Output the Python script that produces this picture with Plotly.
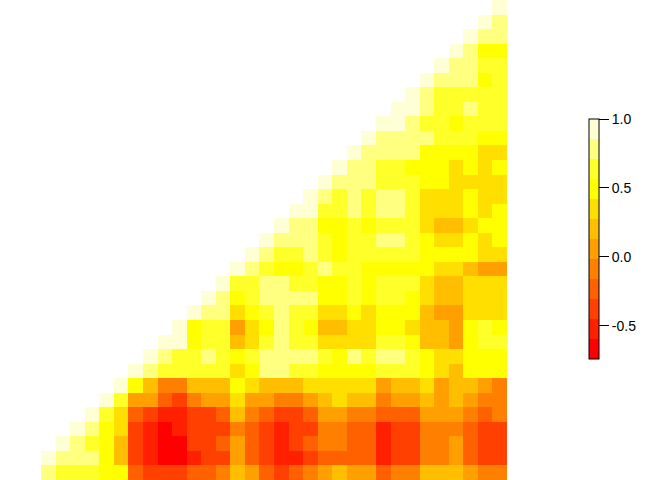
import plotly.graph_objects as go

# Lower-triangular correlation values; each row starts at its first filled column
# (row r begins at column 31 - r; the last row is complete).
row_values = [
    [1.00],
    [1.00, .78],
    [1.00, .78, .78],
    [1.00, .78, .49, .49],
    [1.00, .78, .78, .64, .64],
    [1.00, .78, .78, .78, .49, .64],
    [1.00, .78, .64, .64, .64, .64, .64],
    [1.00, .93, .78, .64, .64, .78, .64, .64],
    [1.00, .93, .78, .64, .64, .49, .64, .64, .64],
    [1.00, .78, .78, .78, .78, .64, .64, .64, .49, .49],
    [1.00, .78, .78, .78, .78, .49, .49, .49, .49, .35, .35],
    [1.00, .78, .78, .64, .64, .49, .49, .49, .35, .49, .35, .49],
    [1.00, .78, .78, .78, .64, .64, .64, .49, .49, .35, .35, .35, .35],
    [1.00, .78, .64, .78, .64, .78, .78, .64, .35, .35, .35, .49, .35, .35],
    [1.00, .93, .64, .64, .78, .64, .78, .78, .64, .35, .35, .35, .49, .35, .49],
    [1.00, .78, .78, .49, .49, .64, .49, .64, .64, .64, .35, .20, .20, .35, .49, .49],
    [1.00, .78, .78, .78, .64, .49, .64, .64, .78, .78, .64, .49, .35, .35, .49, .35, .49],
    [1.00, .78, .64, .64, .78, .64, .49, .64, .64, .64, .64, .64, .49, .49, .49, .49, .35, .35],
    [1.00, .78, .64, .49, .49, .64, .78, .64, .64, .49, .49, .49, .49, .49, .35, .35, .20, .06, .06],
    [1.00, .64, .64, .78, .78, .64, .64, .49, .49, .64, .49, .64, .64, .64, .35, .20, .20, .35, .35, .35],
    [1.00, .78, .49, .64, .78, .78, .78, .78, .49, .49, .64, .49, .64, .64, .49, .35, .20, .20, .35, .35, .35],
    [1.00, .78, .78, .35, .49, .64, .78, .64, .64, .35, .35, .49, .35, .49, .49, .49, .20, .06, .06, .35, .35, .35],
    [1.00, .49, .64, .64, .06, .35, .49, .78, .64, .49, .20, .20, .35, .35, .49, .49, .35, .20, .20, .06, .49, .64, .49],
    [1.00, .93, .49, .64, .64, .20, .35, .64, .78, .64, .64, .35, .35, .35, .35, .64, .64, .49, .20, .20, .06, .49, .64, .64],
    [1.00, .78, .64, .64, .78, .64, .49, .64, .78, .78, .78, .78, .64, .49, .78, .64, .78, .78, .64, .49, .35, .35, .49, .49, .49],
    [1.00, .78, .64, .64, .64, .64, .64, .35, .49, .78, .78, .64, .64, .49, .49, .49, .49, .64, .64, .64, .49, .35, .20, .49, .49, .49],
    [1.00, .49, .20, -.09, -.09, .20, .20, .20, .49, .35, .20, .20, .20, .35, .35, .35, .35, .35, .06, .20, .20, .35, .06, .20, .20, .06, -.09],
    [1.00, .64, .06, .06, -.23, -.38, -.09, .06, .06, .35, .06, .06, -.09, -.09, .06, .20, .35, .20, .20, -.09, .06, .06, .20, .06, .20, .06, -.09, -.09],
    [1.00, .64, .35, -.23, -.38, -.52, -.52, -.38, -.38, -.23, .20, -.09, -.23, -.38, -.38, -.23, .06, .06, -.09, -.09, -.23, -.23, -.23, .06, .06, .06, -.09, -.23, -.09],
    [1.00, .78, .49, .35, -.38, -.52, -.67, -.52, -.38, -.38, -.38, -.09, -.23, -.38, -.52, -.38, -.38, -.09, -.09, -.23, -.23, -.52, -.38, -.38, -.09, -.09, -.09, -.23, -.38, -.38],
    [1.00, .78, .64, .49, .20, -.38, -.52, -.67, -.67, -.38, -.38, -.23, .06, -.23, -.38, -.52, -.38, -.23, -.09, -.09, -.23, -.23, -.52, -.38, -.38, -.09, -.09, .06, -.23, -.38, -.38],
    [1.00, .78, .78, .78, .49, .20, -.38, -.52, -.67, -.67, -.52, -.38, -.38, .06, -.23, -.38, -.52, -.52, -.38, -.23, -.23, -.23, -.23, -.52, -.38, -.38, -.09, -.09, .06, -.23, -.38, -.38],
    [.78, .64, .64, .64, .49, .49, -.23, -.38, -.38, -.38, -.23, -.23, -.09, .20, .06, -.23, -.38, -.23, -.09, .06, .20, .06, .06, -.23, -.09, -.09, .20, .20, .20, .06, -.09, -.09],
]

n_cols = 32
col_index = list(range(n_cols))
row_index = list(range(len(row_values)))

# heat.colors(12)
heat_colors = ["#FF0000", "#FF2000", "#FF4000", "#FF6000", "#FF8000", "#FF9F00",
               "#FFBF00", "#FFDF00", "#FFFF00", "#FFFF2A", "#FFFF80", "#FFFFD5"]
z_min, z_max = -0.74, 1.0
tick_vals = [-0.5, 0.0, 0.5, 1.0]
tick_text = ["-0.5", "0.0", "0.5", "1.0"]

z = []
for vals in row_values:
    z.append([None] * (n_cols - len(vals)) + list(vals))

colorscale = []
nc = len(heat_colors)
for i, c in enumerate(heat_colors):
    colorscale.append([i / nc, c])
    colorscale.append([(i + 1) / nc, c])

L, R = 41, 165
plot_w = 672 - L - R

fig = go.Figure(go.Heatmap(
    z=z, x=col_index, y=row_index,
    zmin=z_min, zmax=z_max, colorscale=colorscale,
    hoverongaps=False,
    colorbar=dict(
        thickness=10, thicknessmode="pixels",
        len=240, lenmode="pixels",
        x=(589 - L) / plot_w, xanchor="left", xpad=0,
        y=1 - 239 / 480, yanchor="middle", ypad=0,
        outlinecolor="black", outlinewidth=1,
        tickmode="array", tickvals=tick_vals, ticktext=tick_text,
        ticks="outside", ticklen=10, tickwidth=1, tickcolor="black",
        tickfont=dict(family="Liberation Sans, Arial", size=14, color="black"),
    ),
))

fig.update_layout(
    width=672, height=480,
    margin=dict(l=L, r=R, t=0, b=0, pad=0),
    paper_bgcolor="white", plot_bgcolor="white",
    xaxis=dict(visible=False, range=[-0.5, n_cols - 0.5]),
    yaxis=dict(visible=False, range=[len(row_values) - 0.5, -0.5]),
    showlegend=False,
)

fig.write_html(
    "out.html",
    config={"displayModeBar": False},
    post_script="document.body.style.margin='0';document.body.style.overflow='hidden';",
)
